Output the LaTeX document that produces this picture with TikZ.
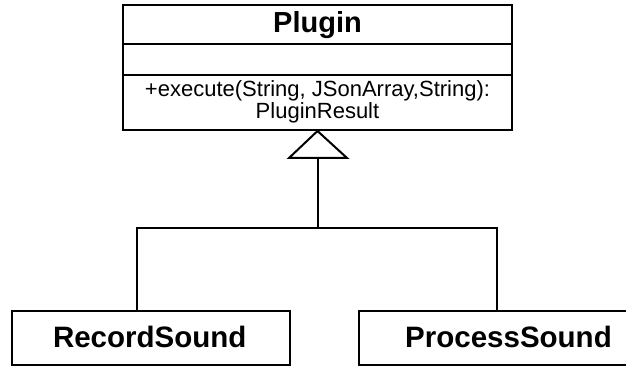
\documentclass[tikz,border=0pt]{standalone}
\usepackage{fontspec}
\setmainfont{Liberation Sans}
\begin{document}
\begin{tikzpicture}[x=1pt,y=-1pt,
  umlbox/.style={draw, line width=2pt, rectangle, inner sep=0pt, fill=white},
  conn/.style={line width=2pt},
  titletext/.style={font=\fontsize{29.5}{31}\selectfont\bfseries, inner sep=0pt, anchor=base},
  membertext/.style={font=\fontsize{22}{24}\selectfont, inner sep=0pt, anchor=base}]
  \useasboundingbox (0,0) rectangle (626,366);
  \clip (0,0) rectangle (626,366);
  \fill[white] (0,0) rectangle (626,366);

  % Plugin class with its three compartments
  \node[umlbox, minimum width=389pt, minimum height=125pt] (plugin) at (317.5,67.5) {};
  \draw[line width=2.6pt] (123,44) -- (512,44);
  \draw[line width=2pt] (123,75) -- (512,75);
  \node[titletext, font=\fontsize{29}{31}\selectfont\bfseries] (ptitle) at (317.5,33) {Plugin};
  \node[membertext] (pop1) at (317.5,97) {+execute(String, JSonArray,String):};
  \node[membertext] (pop2) at (317.5,119) {PluginResult};

  % Subclasses
  \node[umlbox, minimum width=278pt, minimum height=54pt] (rec) at (151,338) {};
  \node[titletext] (rectext) at (149.7,347) {RecordSound};
  \node[umlbox, minimum width=309pt, minimum height=54pt] (proc) at (513.5,338) {};
  \node[titletext] (proctext) at (508.5,347) {ProcessSound};

  % Generalization arrow: hollow triangle under Plugin
  \coordinate (apex) at (plugin.south);
  \coordinate (tbase) at (318,158);
  \draw[line width=2pt, line join=miter] (apex) -- (289,158) -- (347,158) -- cycle;
  \coordinate (join) at (318,228);
  \coordinate (jl) at (137,228);
  \coordinate (jr) at (497,228);
  \draw[conn] (tbase) -- (join);
  \draw[conn] (rec.north -| jl) -- (jl) -- (jr) -- (proc.north -| jr);
\end{tikzpicture}
\end{document}
